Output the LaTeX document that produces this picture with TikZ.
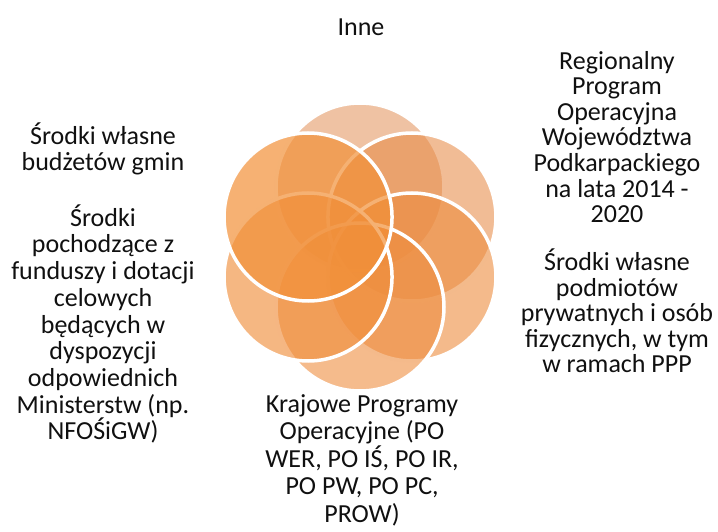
\documentclass[tikz,border=0pt]{standalone}
\usepackage{fontspec}
\setmainfont{Carlito}
\usepackage{xcolor}
\usepackage{tikz}
\usetikzlibrary{positioning,calc}
\definecolor{petal1}{HTML}{E29058}
\definecolor{petal2}{HTML}{E78A45}
\definecolor{petal3}{HTML}{EC8C3E}
\definecolor{petal4}{HTML}{EE8D3F}
\definecolor{petal5}{HTML}{F08E3C}
\definecolor{petal6}{HTML}{F29038}
\definecolor{ink}{HTML}{101010}

\begin{document}
\begin{tikzpicture}[x=1pt, y=1pt]
  \def\rad{84}
  \def\ring{60}
  \useasboundingbox (0,0) rectangle (718,531);
  \coordinate (mid) at (360,284);
  \coordinate (c1) at ($(mid)+(90:\ring)$);
  \coordinate (c2) at ($(mid)+(30:\ring)$);
  \coordinate (c3) at ($(mid)+(-30:\ring)$);
  \coordinate (c4) at ($(mid)+(-90:\ring)$);
  \coordinate (c5) at ($(mid)+(210:\ring)$);
  \coordinate (c6) at ($(mid)+(150:\ring)$);

  \draw[line width=3.5pt, white, fill=petal1, fill opacity=0.55] (c1) circle (\rad);
  \draw[line width=3.5pt, white, fill=petal2, fill opacity=0.57] (c2) circle (\rad);
  \draw[line width=3.5pt, white, fill=petal3, fill opacity=0.6] (c3) circle (\rad);
  \draw[line width=3.5pt, white, fill=petal4, fill opacity=0.6] (c4) circle (\rad);
  \draw[line width=3.5pt, white, fill=petal5, fill opacity=0.64] (c5) circle (\rad);
  \draw[line width=3.5pt, white, fill=petal6, fill opacity=0.7] (c6) circle (\rad);

  \node[font=\color{ink}\fontsize{26}{26}\selectfont, align=center] (inne) at (361,504) {Inne};
  \node[font=\color{ink}\fontsize{26}{25.6}\selectfont, align=center] (rpo) at (617,394) {Regionalny\\Program\\Operacyjna\\Województwa\\Podkarpackiego\\na lata 2014 -\\2020};
  \node[font=\color{ink}\fontsize{26}{25.6}\selectfont, align=center] (prywatne) at (617,220) {Środki własne\\podmiotów\\prywatnych i osób\\fizycznych, w tym\\w ramach PPP};
  \node[font=\color{ink}\fontsize{26}{27.5}\selectfont, align=center] (krajowe) at (362,71) {Krajowe Programy\\Operacyjne (PO\\WER, PO IŚ, PO IR,\\PO PW, PO PC,\\PROW)};
  \node[font=\color{ink}\fontsize{26}{26.7}\selectfont, align=center] (gminy) at (103,382) {Środki własne\\budżetów gmin};
  \node[font=\color{ink}\fontsize{26}{26.7}\selectfont, align=center] (ministerstwa) at (103,207) {Środki\\pochodzące z\\funduszy i dotacji\\celowych\\będących w\\dyspozycji\\odpowiednich\\Ministerstw (np.\\NFOŚiGW)};
\end{tikzpicture}
\end{document}
